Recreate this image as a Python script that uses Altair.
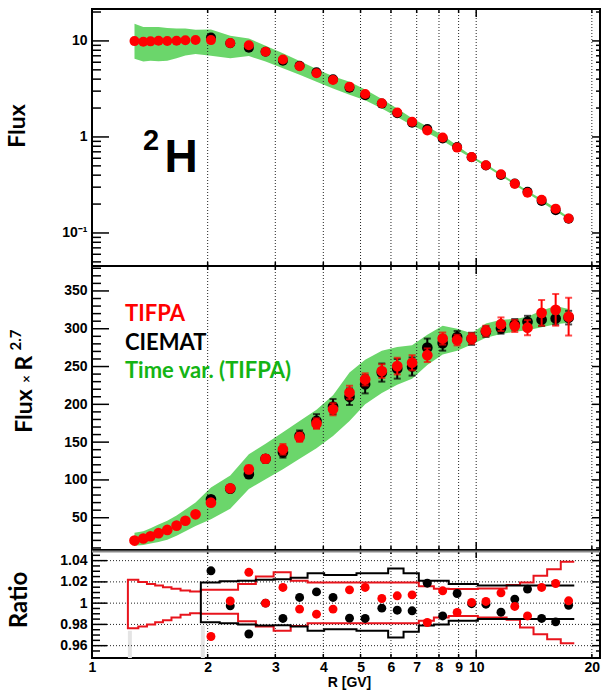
import altair as alt
import pandas as pd

# ---------------- data ----------------
# rigidity bin edges [GV]
BIN_EDGES = [1.24, 1.32, 1.39, 1.46, 1.53, 1.61, 1.70, 1.80, 1.92, 2.15, 2.40, 2.67,
             2.97, 3.29, 3.64, 4.02, 4.43, 4.88, 5.37, 5.90, 6.47, 7.09, 7.76, 8.48,
             9.26, 10.1, 11.0, 12.0, 13.0, 14.1, 15.3, 16.6, 18.0]
# bin centres [GV]
R_CENTRE = [1.29, 1.36, 1.42, 1.49, 1.57, 1.66, 1.75, 1.86, 2.04, 2.29, 2.56, 2.83,
            3.14, 3.47, 3.84, 4.24, 4.68, 5.14, 5.68, 6.23, 6.81, 7.46, 8.18, 8.92,
            9.73, 10.6, 11.6, 12.6, 13.6, 14.8, 16.1, 17.4]

# Flux x R^2.7, TIFPA analysis (all bins)
TIFPA_FR = [19.8, 22.5, 25.5, 29.5, 33.8, 39.5, 46.0, 54.5, 69.9, 88.9, 114.0, 128.0,
            140.5, 156.5, 174.5, 193.5, 215.6, 233.0, 244.0, 250.6, 255.0, 265.0, 287.0, 285.0,
            287.0, 297.0, 306.0, 303.7, 301.4, 321.0, 325.0, 316.0]
TIFPA_ERR = [1.5, 1.5, 1.5, 1.5, 1.5, 1.5, 1.5, 2.0, 3.0, 3.0, 5.0, 5.0,
             7.0, 6.0, 7.0, 8.0, 9.0, 8.0, 9.0, 11.0, 10.0, 9.0, 8.0, 7.0,
             7.0, 7.0, 9.0, 8.0, 10.0, 17.0, 21.0, 25.0]

# Flux x R^2.7, CIEMAT analysis (from 1.92 GV on)
CIEMAT_FR = [74.3, 88.5, 107.5, 128.0, 136.5, 158.5, 178.0, 197.0, 210.0, 226.5, 242.0, 247.0,
             250.0, 275.0, 281.0, 289.0, 286.7, 296.2, 300.5, 305.8, 309.1, 311.8, 313.5, 314.7]
CIEMAT_ERR = [4.0, 3.0, 5.0, 5.0, 7.0, 7.0, 9.0, 10.0, 11.0, 12.0, 12.0, 13.0,
              12.0, 12.0, 10.0, 8.0, 8.0, 7.0, 7.0, 7.0, 8.0, 8.0, 8.0, 9.0]

# time-variation band (TIFPA), Flux x R^2.7
BAND_HI = [30, 32, 36, 41, 46, 53, 61, 70, 90, 106, 134, 148,
           163, 178, 193, 212, 242, 259, 271, 276, 278, 292, 304, 300,
           294, 307, 312, 313, 316, 324, 330, 326]
BAND_LO = [13, 14, 16, 18, 21, 26, 32, 39, 48, 62, 88, 101,
           114, 128, 142, 158, 178, 200, 215, 226, 234, 252, 266, 271,
           279, 288, 293, 296, 298, 302, 306, 308]

# ratio to the average of the two analyses
RATIO_TIFPA = [0.9686, 1.0020, 1.0290, 1.0000, 1.0148, 0.9944, 0.9896, 0.9944, 1.0125, 1.0148,
               1.0044, 1.0069, 1.0078, 0.9818, 1.0116, 0.9912, 1.0007, 1.0016, 1.0097, 0.9969,
               0.9880, 1.0148, 1.0185, 1.0022]
RATIO_CIEMAT = [1.0304, 0.9975, 0.9710, 1.0000, 0.9856, 1.0054, 1.0106, 1.0054, 0.9859, 0.9856,
                0.9953, 0.9934, 0.9928, 1.0188, 0.9880, 1.0091, 0.9995, 0.9990, 0.9915, 1.0038,
                1.0132, 0.9856, 0.9824, 0.9980]

# relative uncertainty envelopes (per bin)
ENV_TIFPA_HI = [1.022, 1.020, 1.018, 1.0165, 1.015, 1.0135, 1.012, 1.011, 1.0125, 1.0125,
                1.018, 1.025, 1.029, 1.021, 1.0195, 1.0195, 1.0195, 1.0195, 1.0195, 1.0195,
                1.0195, 1.016, 1.0135, 1.0132, 1.0132, 1.0137, 1.0137, 1.017, 1.0195, 1.0257,
                1.032, 1.039]
ENV_TIFPA_LO = [0.9765, 0.978, 0.980, 0.982, 0.984, 0.9865, 0.989, 0.9906, 0.990, 0.990,
                0.983, 0.978, 0.974, 0.9786, 0.981, 0.981, 0.981, 0.981, 0.981, 0.981,
                0.981, 0.9834, 0.9865, 0.988, 0.988, 0.9865, 0.9865, 0.9843, 0.977, 0.9708,
                0.966, 0.9623]
ENV_CIEMAT_HI = [1.0195, 1.0205, 1.021, 1.022, 1.0226, 1.024, 1.0282, 1.0264, 1.0264, 1.0282,
                 1.0282, 1.0327, 1.0282, 1.021, 1.021, 1.0179, 1.0179, 1.0165, 1.0165, 1.0165,
                 1.0165, 1.0165, 1.0165, 1.0165]
ENV_CIEMAT_LO = [0.982, 0.981, 0.980, 0.979, 0.9793, 0.978, 0.974, 0.9755, 0.9755, 0.974,
                 0.974, 0.9677, 0.973, 0.979, 0.980, 0.9834, 0.9834, 0.985, 0.985, 0.985,
                 0.985, 0.985, 0.985, 0.985]

# axis ticks / grid
X_GRID = [2, 3, 4, 5, 6, 7, 8, 9, 10, 20]
X_LABELS = [1, 2, 3, 4, 5, 6, 7, 8, 9, 10, 20]
FLUX_MAJOR = [0.1, 1, 10]
FLUX_MINOR = [0.05, 0.06, 0.07, 0.08, 0.09, 0.2, 0.3, 0.4, 0.5, 0.6, 0.7, 0.8, 0.9,
              2, 3, 4, 5, 6, 7, 8, 9, 20]
FR_MAJOR = [50, 100, 150, 200, 250, 300, 350]
FR_MINOR = [10, 20, 30, 40, 60, 70, 80, 90, 110, 120, 130, 140, 160, 170, 180, 190,
            210, 220, 230, 240, 260, 270, 280, 290, 310, 320, 330, 340, 360, 370, 380]
RATIO_MAJOR = [0.96, 0.98, 1.0, 1.02, 1.04]
RATIO_MINOR = [0.955, 0.965, 0.97, 0.975, 0.985, 0.99, 0.995, 1.005, 1.01, 1.015,
               1.025, 1.03, 1.035, 1.045]
BIN_MARK_TOP = [0.974, 0.979]

# ---------------- layout ----------------
W = 508
H_TOP, H_MID, H_BOT = 257, 284, 108
RED, GREEN_BAND, GREEN_TXT = "#ff0000", "#6bd66b", "#14b414"
TICK_FONT = "Liberation Sans"
TITLE_FONT = "Lato"

XS = alt.Scale(type="log", domain=[1, 21.0], nice=False)
YS_TOP = alt.Scale(type="log", domain=[0.0453, 21.5], nice=False)
YS_MID = alt.Scale(domain=[7.3, 383], nice=False, zero=False)
YS_BOT = alt.Scale(domain=[0.9484, 1.0500], nice=False, zero=False)

LABEL_KW = dict(labelFont=TICK_FONT, labelFontSize=14, labelFontWeight="bold",
                labelColor="black", ticks=False, tickSize=0, domain=False, grid=False,
                labelPadding=5)

AX_TOP = alt.Axis(values=FLUX_MAJOR, title=None,
                  labelExpr="datum.value < 0.5 ? '10⁻¹' : format(datum.value, 'd')", **LABEL_KW)
AX_MID = alt.Axis(values=FR_MAJOR, title=None, format="d", **LABEL_KW)
AX_BOT = alt.Axis(values=RATIO_MAJOR, title=None,
                  labelExpr="abs(datum.value - 1) < 1e-6 ? '1' : format(datum.value, '.2f')",
                  **LABEL_KW)
AX_X = alt.Axis(values=X_LABELS, format="d", title="R [GV]", labelFlush=False,
                labelFont=TICK_FONT, labelFontSize=14, labelFontWeight="bold",
                labelColor="black", ticks=False, tickSize=0, domain=False, grid=False,
                labelPadding=2, titleFont=TICK_FONT, titleFontSize=14,
                titleFontWeight="bold", titleColor="black", titleX=257, titleY=24,
                titleBaseline="middle", titleAlign="center")

# ---------------- tables ----------------
tifpa = pd.DataFrame({"R": R_CENTRE, "fr": TIFPA_FR, "err": TIFPA_ERR,
                      "hi": BAND_HI, "lo": BAND_LO})
tifpa["fr_lo"] = tifpa["fr"] - tifpa["err"]
tifpa["fr_hi"] = tifpa["fr"] + tifpa["err"]
tifpa["flux"] = tifpa["fr"] / tifpa["R"] ** 2.7
tifpa["band_hi"] = tifpa["hi"] / tifpa["R"] ** 2.7
tifpa["band_lo"] = tifpa["lo"] / tifpa["R"] ** 2.7

ciemat = pd.DataFrame({"R": R_CENTRE[8:], "fr": CIEMAT_FR, "err": CIEMAT_ERR})
ciemat["fr_lo"] = ciemat["fr"] - ciemat["err"]
ciemat["fr_hi"] = ciemat["fr"] + ciemat["err"]
ciemat["flux"] = ciemat["fr"] / ciemat["R"] ** 2.7

ratio_t = pd.DataFrame({"R": R_CENTRE[8:], "r": RATIO_TIFPA})
ratio_c = pd.DataFrame({"R": R_CENTRE[8:], "r": RATIO_CIEMAT})


def envelope(edges, hi, lo):
    """Closed-left step outline: lower steps right-to-left, then upper steps."""
    rows = []
    n = len(hi)
    for i in reversed(range(n)):
        rows.append((edges[i + 1], lo[i]))
        rows.append((edges[i], lo[i]))
    for i in range(n):
        rows.append((edges[i], hi[i]))
        rows.append((edges[i + 1], hi[i]))
    return pd.DataFrame({"R": [a for a, _ in rows], "r": [b for _, b in rows],
                         "k": list(range(len(rows)))})


env_t = envelope(BIN_EDGES, ENV_TIFPA_HI, ENV_TIFPA_LO)
env_c = envelope(BIN_EDGES[8:], ENV_CIEMAT_HI, ENV_CIEMAT_LO)


# ---------------- helpers ----------------
def xq(field, axis=None):
    return alt.X(f"{field}:Q", scale=XS, axis=axis)


def frame_pieces(h, ys, yax, major, minor, xax=None, maj_len=17, min_len=9):
    """Dotted grid and inward ticks for one panel."""
    grid = alt.Chart(pd.DataFrame({"v": X_GRID})).mark_rule(
        color="#222222", strokeWidth=1, strokeDash=[1, 2]).encode(
        x=xq("v", xax), y=alt.value(0), y2=alt.value(h))
    xt_major = pd.DataFrame({"v": [10]})
    xt_minor = pd.DataFrame({"v": [2, 3, 4, 5, 6, 7, 8, 9, 20]})
    pieces = [grid]
    for df, ln in ((xt_major, 8), (xt_minor, 4)):
        for y0, y1 in ((0, ln), (h - ln, h)):
            pieces.append(alt.Chart(df).mark_rule(color="black", strokeWidth=1.5).encode(
                x=xq("v", xax), y=alt.value(y0), y2=alt.value(y1)))
    for vals, ln, rln in ((major, maj_len, 8), (minor, min_len, 4)):
        df = pd.DataFrame({"v": vals})
        pieces.append(alt.Chart(df).mark_rule(color="black", strokeWidth=1.5).encode(
            y=alt.Y("v:Q", scale=ys, axis=yax), x=alt.value(0), x2=alt.value(ln)))
        pieces.append(alt.Chart(df).mark_rule(color="black", strokeWidth=1.5).encode(
            y=alt.Y("v:Q", scale=ys, axis=yax), x=alt.value(W - rln), x2=alt.value(W)))
    return pieces


def ytitle(parts):
    """Rotated title pieces: (text, x, y, size)."""
    layers = []
    for txt, x, y, size in parts:
        layers.append(alt.Chart(pd.DataFrame({"t": [txt]})).mark_text(
            angle=270, align="center", baseline="middle", font=TITLE_FONT,
            fontSize=size, fontWeight="bold", color="black").encode(
            text="t:N", x=alt.value(x), y=alt.value(y)))
    return layers


# ---------------- top panel: flux ----------------
top_band = alt.Chart(tifpa).mark_area(color=GREEN_BAND, opacity=1).encode(
    x=xq("R"), y=alt.Y("band_hi:Q", scale=YS_TOP, axis=AX_TOP), y2="band_lo:Q")
top_c = alt.Chart(ciemat).mark_circle(color="black", size=100, opacity=1).encode(
    x=xq("R"), y=alt.Y("flux:Q", scale=YS_TOP, axis=AX_TOP))
top_t = alt.Chart(tifpa).mark_circle(color=RED, size=100, opacity=1).encode(
    x=xq("R"), y=alt.Y("flux:Q", scale=YS_TOP, axis=AX_TOP))
iso_sup = alt.Chart(pd.DataFrame({"t": ["2"]})).mark_text(
    font=TICK_FONT, fontSize=29, fontWeight="bold", color="black",
    align="center", baseline="middle").encode(text="t:N", x=alt.value(59), y=alt.value(132))
iso_h = alt.Chart(pd.DataFrame({"t": ["H"]})).mark_text(
    font=TICK_FONT, fontSize=46, fontWeight="bold", color="black",
    align="center", baseline="middle").encode(text="t:N", x=alt.value(89), y=alt.value(149))

top = alt.layer(
    top_band,
    *frame_pieces(H_TOP, YS_TOP, AX_TOP, FLUX_MAJOR, FLUX_MINOR),
    top_c, top_t, iso_sup, iso_h,
    *ytitle([("Flux", -74, 117, 23)]),
).properties(width=W, height=H_TOP)

# ---------------- middle panel: flux x R^2.7 ----------------
mid_band = alt.Chart(tifpa).mark_area(color=GREEN_BAND, opacity=1).encode(
    x=xq("R"), y=alt.Y("hi:Q", scale=YS_MID, axis=AX_MID), y2="lo:Q")


def errbars(df, color):
    bar = alt.Chart(df).mark_rule(color=color, strokeWidth=2).encode(
        x=xq("R"), y=alt.Y("fr_lo:Q", scale=YS_MID, axis=AX_MID), y2="fr_hi:Q")
    caps = [alt.Chart(df).mark_tick(color=color, orient="horizontal", size=7,
                                    thickness=2).encode(
        x=xq("R"), y=alt.Y(f"{f}:Q", scale=YS_MID, axis=AX_MID)) for f in ("fr_lo", "fr_hi")]
    return [bar, *caps]


mid_c = alt.Chart(ciemat).mark_circle(color="black", size=115, opacity=1).encode(
    x=xq("R"), y=alt.Y("fr:Q", scale=YS_MID, axis=AX_MID))
mid_t = alt.Chart(tifpa).mark_circle(color=RED, size=115, opacity=1).encode(
    x=xq("R"), y=alt.Y("fr:Q", scale=YS_MID, axis=AX_MID))

legend_rows = pd.DataFrame({"t": ["TIFPA", "CIEMAT", "Time var. (TIFPA)"],
                            "c": [RED, "black", GREEN_TXT]})
legend = [alt.Chart(legend_rows.iloc[[i]]).mark_text(
    font=TITLE_FONT, fontSize=22, fontWeight="bold", align="left", baseline="middle",
    color=legend_rows["c"][i]).encode(text="t:N", x=alt.value(33), y=alt.value(48 + 28.5 * i))
    for i in range(3)]

mid = alt.layer(
    mid_band,
    *frame_pieces(H_MID, YS_MID, AX_MID, FR_MAJOR, FR_MINOR),
    *errbars(ciemat, "black"), mid_c,
    *errbars(tifpa, RED), mid_t,
    *legend,
    *ytitle([("Flux", -67, 145, 23), ("×", -65, 113, 13), ("R", -67, 97, 23),
             ("2.7", -76, 74, 15)]),
).properties(width=W, height=H_MID)

# ---------------- bottom panel: ratio ----------------
hgrid = alt.Chart(pd.DataFrame({"v": RATIO_MAJOR})).mark_rule(
    color="#222222", strokeWidth=1, strokeDash=[1, 2]).encode(
    y=alt.Y("v:Q", scale=YS_BOT, axis=AX_BOT), x=alt.value(0), x2=alt.value(W))
bin_marks = alt.Chart(pd.DataFrame({"R": [BIN_EDGES[0], BIN_EDGES[8]],
                                    "top": BIN_MARK_TOP,
                                    "bot": [0.9484, 0.9484]})).mark_rule(
    color="#e4e4e4", strokeWidth=4, xOffset=2).encode(
    x=xq("R", AX_X), y=alt.Y("bot:Q", scale=YS_BOT, axis=AX_BOT), y2="top:Q")
sep = alt.Chart(pd.DataFrame({"v": [1.0]})).mark_rule(
    color="#8a8a8a", strokeWidth=2).encode(
    x=alt.value(0), x2=alt.value(W), y=alt.value(1.5))
env_t_line = alt.Chart(env_t).mark_line(color="#e8141c", strokeWidth=2).encode(
    x=xq("R", AX_X), y=alt.Y("r:Q", scale=YS_BOT, axis=AX_BOT), order="k:Q")
env_c_line = alt.Chart(env_c).mark_line(color="black", strokeWidth=2).encode(
    x=xq("R", AX_X), y=alt.Y("r:Q", scale=YS_BOT, axis=AX_BOT), order="k:Q")
rat_c = alt.Chart(ratio_c).mark_circle(color="black", size=80, opacity=1).encode(
    x=xq("R", AX_X), y=alt.Y("r:Q", scale=YS_BOT, axis=AX_BOT))
rat_t = alt.Chart(ratio_t).mark_circle(color=RED, size=80, opacity=1).encode(
    x=xq("R", AX_X), y=alt.Y("r:Q", scale=YS_BOT, axis=AX_BOT))

bot = alt.layer(
    bin_marks, hgrid,
    *frame_pieces(H_BOT, YS_BOT, AX_BOT, RATIO_MAJOR, RATIO_MINOR, xax=AX_X,
                  maj_len=15, min_len=8),
    sep, env_t_line, env_c_line, rat_c, rat_t,
    *ytitle([("Ratio", -72, 50, 24)]),
).properties(width=W, height=H_BOT)

chart = alt.vconcat(top, mid, bot, spacing=0, bounds="flush").properties(
    padding={"left": 6, "top": 7, "right": 2, "bottom": 2},
).configure_view(stroke="black", strokeWidth=2)

chart.save("out.html", embed_options={"renderer": "svg", "actions": False})
